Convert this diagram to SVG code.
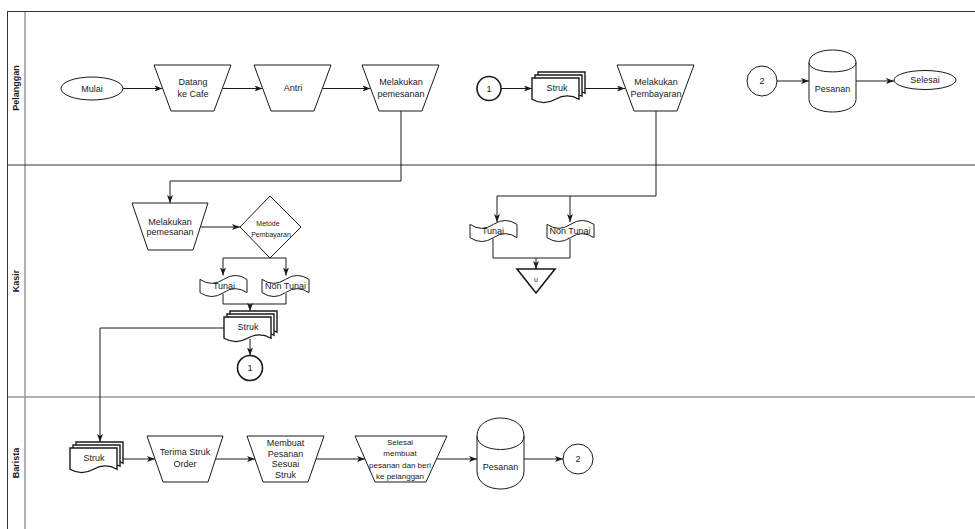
<svg xmlns="http://www.w3.org/2000/svg" xmlns:xlink="http://www.w3.org/1999/xlink" width="975" height="529" viewBox="0 0 975 529">
<style>
.t{font-family:"Liberation Sans",Arial,Helvetica,sans-serif;font-size:9px;fill:#1a1a1a;text-anchor:middle;dominant-baseline:central}
.s7{font-size:7px}
.s8{font-size:8px}
.lane{font-family:"Liberation Sans",Arial,Helvetica,sans-serif;font-size:9px;font-weight:bold;fill:#1a1a1a;text-anchor:middle;dominant-baseline:central}
.sh{fill:#fff;stroke:#1a1a1a;stroke-width:1}
.thick{fill:#fff;stroke:#1a1a1a;stroke-width:1.6}
.c{fill:none;stroke:#1a1a1a;stroke-width:1}
.ca{fill:none;stroke:#1a1a1a;stroke-width:1;marker-end:url(#arr)}
</style>
<defs>
<marker id="arr" viewBox="0 0 8 6" refX="8" refY="3" markerWidth="8" markerHeight="6" orient="auto" markerUnits="userSpaceOnUse">
<path d="M0,0 L8,3 L0,6 L2,3 Z" fill="#1a1a1a"/>
</marker>
<path id="tape" d="M0,4.4 Q11.75,12.32 23.5,4.4 Q35.25,-3.52 47,4.4 L47,17.6 Q35.25,9.68 23.5,17.6 Q11.75,25.52 0,17.6 Z" fill="#fff" stroke="#1a1a1a" stroke-width="1"/>
<g id="multidoc" fill="#fff" stroke="#1a1a1a" stroke-width="1.4">
<path d="M6,0 H53 V21.25 Q41.25,14.5 29.5,21.25 Q17.75,28 6,21.25 Z"/>
<path d="M3,3 H50 V24.25 Q38.25,17.5 26.5,24.25 Q14.75,31 3,24.25 Z"/>
<path d="M0,6 H47 V27.25 Q35.25,20.5 23.5,27.25 Q11.75,34 0,27.25 Z"/>
</g>
</defs>
<rect x="0" y="0" width="975" height="529" fill="#fff"/>

<g id="pool">
<line x1="25" y1="11" x2="25" y2="529" stroke="#999" stroke-width="1.5"/>
<line x1="25" y1="397" x2="975" y2="397" stroke="#999" stroke-width="1.5"/>
<line x1="7.5" y1="397" x2="25" y2="397" stroke="#999" stroke-width="1.5"/>
<line x1="7.5" y1="11" x2="7.5" y2="529" stroke="#333" stroke-width="1"/>
<line x1="7" y1="11.5" x2="975" y2="11.5" stroke="#333" stroke-width="1"/>
<line x1="7" y1="165" x2="975" y2="165" stroke="#333" stroke-width="1"/>
<text class="lane" transform="translate(16,88) rotate(-90)">Pelanggan</text>
<text class="lane" transform="translate(16,281) rotate(-90)">Kasir</text>
<text class="lane" transform="translate(16,463) rotate(-90)">Barista</text>
</g>

<g id="connectors">
<line class="ca" x1="123" y1="88.5" x2="162.5" y2="88.5"/>
<line class="ca" x1="222.5" y1="88.5" x2="262.5" y2="88.5"/>
<line class="ca" x1="322.5" y1="88.5" x2="370.5" y2="88.5"/>
<polyline class="ca" points="401,111 401,181 170,181 170,203"/>
<line class="ca" x1="501" y1="88.5" x2="532" y2="88.5"/>
<line class="ca" x1="585" y1="88.5" x2="625" y2="88.5"/>
<polyline class="ca" points="656,111 656,196 497,196 497,222"/>
<line class="ca" x1="570" y1="196" x2="570" y2="222"/>
<line class="ca" x1="777" y1="81" x2="809" y2="81"/>
<line class="ca" x1="856" y1="81" x2="894" y2="81"/>

<line class="ca" x1="200.5" y1="227" x2="240" y2="227"/>
<polyline class="ca" points="270,258 223,258 223,275.5"/>
<polyline class="ca" points="270,258 286,258 286,275.5"/>
<polyline class="c" points="223,293.5 223,304 286,304 286,293.5"/>
<line class="ca" x1="250" y1="304" x2="250" y2="311"/>
<line class="ca" x1="250" y1="339" x2="250" y2="355.5"/>
<polyline class="ca" points="224,328 100,328 100,442"/>

<polyline class="c" points="493,238.5 493,258 570,258 570,238.5"/>
<line class="ca" x1="536" y1="258" x2="536" y2="269"/>

<line class="ca" x1="123" y1="459" x2="155" y2="459"/>
<line class="ca" x1="215.5" y1="459" x2="255" y2="459"/>
<line class="ca" x1="316" y1="459" x2="365" y2="459"/>
<line class="ca" x1="436.5" y1="459" x2="477" y2="459"/>
<line class="ca" x1="524" y1="459" x2="563" y2="459"/>
</g>

<g id="mulai">
<ellipse class="sh" cx="92" cy="88.5" rx="31" ry="11.5"/>
<text class="t" x="92" y="88.5">Mulai</text>
</g>
<g id="datang">
<polygon class="sh" points="154,65 231,65 214,111 171,111"/>
<text class="t" x="193" y="82">Datang</text>
<text class="t" x="193" y="94">ke Cafe</text>
</g>
<g id="antri">
<polygon class="sh" points="254,65 331,65 314,111 271,111"/>
<text class="t" x="293" y="88">Antri</text>
</g>
<g id="pesan-pelanggan">
<polygon class="sh" points="362,65 439,65 422,111 379,111"/>
<text class="t" x="401" y="82">Melakukan</text>
<text class="t" x="401" y="94">pemesanan</text>
</g>
<g id="conn1-pelanggan">
<circle class="thick" cx="489" cy="88.5" r="12"/>
<text class="t" x="489" y="88.5">1</text>
</g>
<g id="struk-pelanggan">
<use xlink:href="#multidoc" href="#multidoc" x="532" y="72"/>
<text class="t" x="557" y="88">Struk</text>
</g>
<g id="bayar-pelanggan">
<polygon class="sh" points="617,65 694,65 677,111 634,111"/>
<text class="t" x="656" y="82">Melakukan</text>
<text class="t" x="656" y="94">Pembayaran</text>
</g>
<g id="conn2-pelanggan">
<circle class="sh" cx="762" cy="81" r="15"/>
<text class="t" x="762" y="81">2</text>
</g>
<g id="pesanan-pelanggan">
<path class="sh" d="M809,62.5 C809,45.83 856,45.83 856,62.5 L856,99.5 C856,116.17 809,116.17 809,99.5 Z"/>
<path class="c" d="M809,62.5 C809,75 856,75 856,62.5"/>
<text class="t" x="832.5" y="89">Pesanan</text>
</g>
<g id="selesai">
<ellipse class="sh" cx="925" cy="80" rx="31" ry="9.5"/>
<text class="t" x="925" y="80">Selesai</text>
</g>

<g id="pesan-kasir">
<polygon class="sh" points="132,203 208,203 193,250 148,250"/>
<text class="t" x="170" y="222">Melakukan</text>
<text class="t" x="170" y="232">pemesanan</text>
</g>
<g id="metode">
<polygon class="sh" points="270,196 301,227 270,258 240,227"/>
<text class="t s7" x="268" y="223">Metode</text>
<text class="t s7" x="271" y="234">Pembayaran</text>
</g>
<g id="tunai-kasir">
<use xlink:href="#tape" href="#tape" x="200" y="275"/>
<text class="t" x="224" y="286">Tunai</text>
</g>
<g id="nontunai-kasir">
<use xlink:href="#tape" href="#tape" x="262" y="275"/>
<text class="t" x="285.5" y="286">Non Tunai</text>
</g>
<g id="struk-kasir">
<use xlink:href="#multidoc" href="#multidoc" x="224" y="311"/>
<text class="t" x="248" y="327">Struk</text>
</g>
<g id="conn1-kasir">
<circle class="thick" cx="250" cy="368" r="12.5"/>
<text class="t" x="250" y="368">1</text>
</g>
<g id="tunai-kasir2">
<use xlink:href="#tape" href="#tape" x="470" y="220"/>
<text class="t" x="493" y="231">Tunai</text>
</g>
<g id="nontunai-kasir2">
<use xlink:href="#tape" href="#tape" x="547" y="220"/>
<text class="t" x="570" y="231">Non Tunai</text>
</g>
<g id="offline">
<polygon class="thick" points="517,269 555,269 536,293"/>
<text class="t s7" x="536" y="279">u</text>
</g>

<g id="struk-barista">
<use xlink:href="#multidoc" href="#multidoc" x="70" y="442"/>
<text class="t" x="94" y="458">Struk</text>
</g>
<g id="terima">
<polygon class="sh" points="147,436 223,436 208,482 163,482"/>
<text class="t" x="185" y="452">Terima Struk</text>
<text class="t" x="185" y="464">Order</text>
</g>
<g id="membuat">
<polygon class="sh" points="247,436 324,436 308,482 263,482"/>
<text class="t" x="285.5" y="443">Membuat</text>
<text class="t" x="285.5" y="453.5">Pesanan</text>
<text class="t" x="285.5" y="464">Sesuai</text>
<text class="t" x="285.5" y="475">Struk</text>
</g>
<g id="selesai-buat">
<polygon class="sh" points="355,436 447,436 426,482 375,482"/>
<text class="t s8" x="400" y="442">Selesai</text>
<text class="t s8" x="400" y="453.5">membuat</text>
<text class="t s8" x="400" y="465">pesanan dan beri</text>
<text class="t s8" x="400" y="476.5">ke pelanggan</text>
</g>
<g id="pesanan-barista">
<path class="sh" d="M477,436 C477,412 524,412 524,436 L524,471 C524,495 477,495 477,471 Z"/>
<path class="c" d="M477,436 C477,454 524,454 524,436"/>
<text class="t" x="500.5" y="467">Pesanan</text>
</g>
<g id="conn2-barista">
<circle class="sh" cx="578" cy="459" r="15"/>
<text class="t" x="578" y="459">2</text>
</g>
</svg>
